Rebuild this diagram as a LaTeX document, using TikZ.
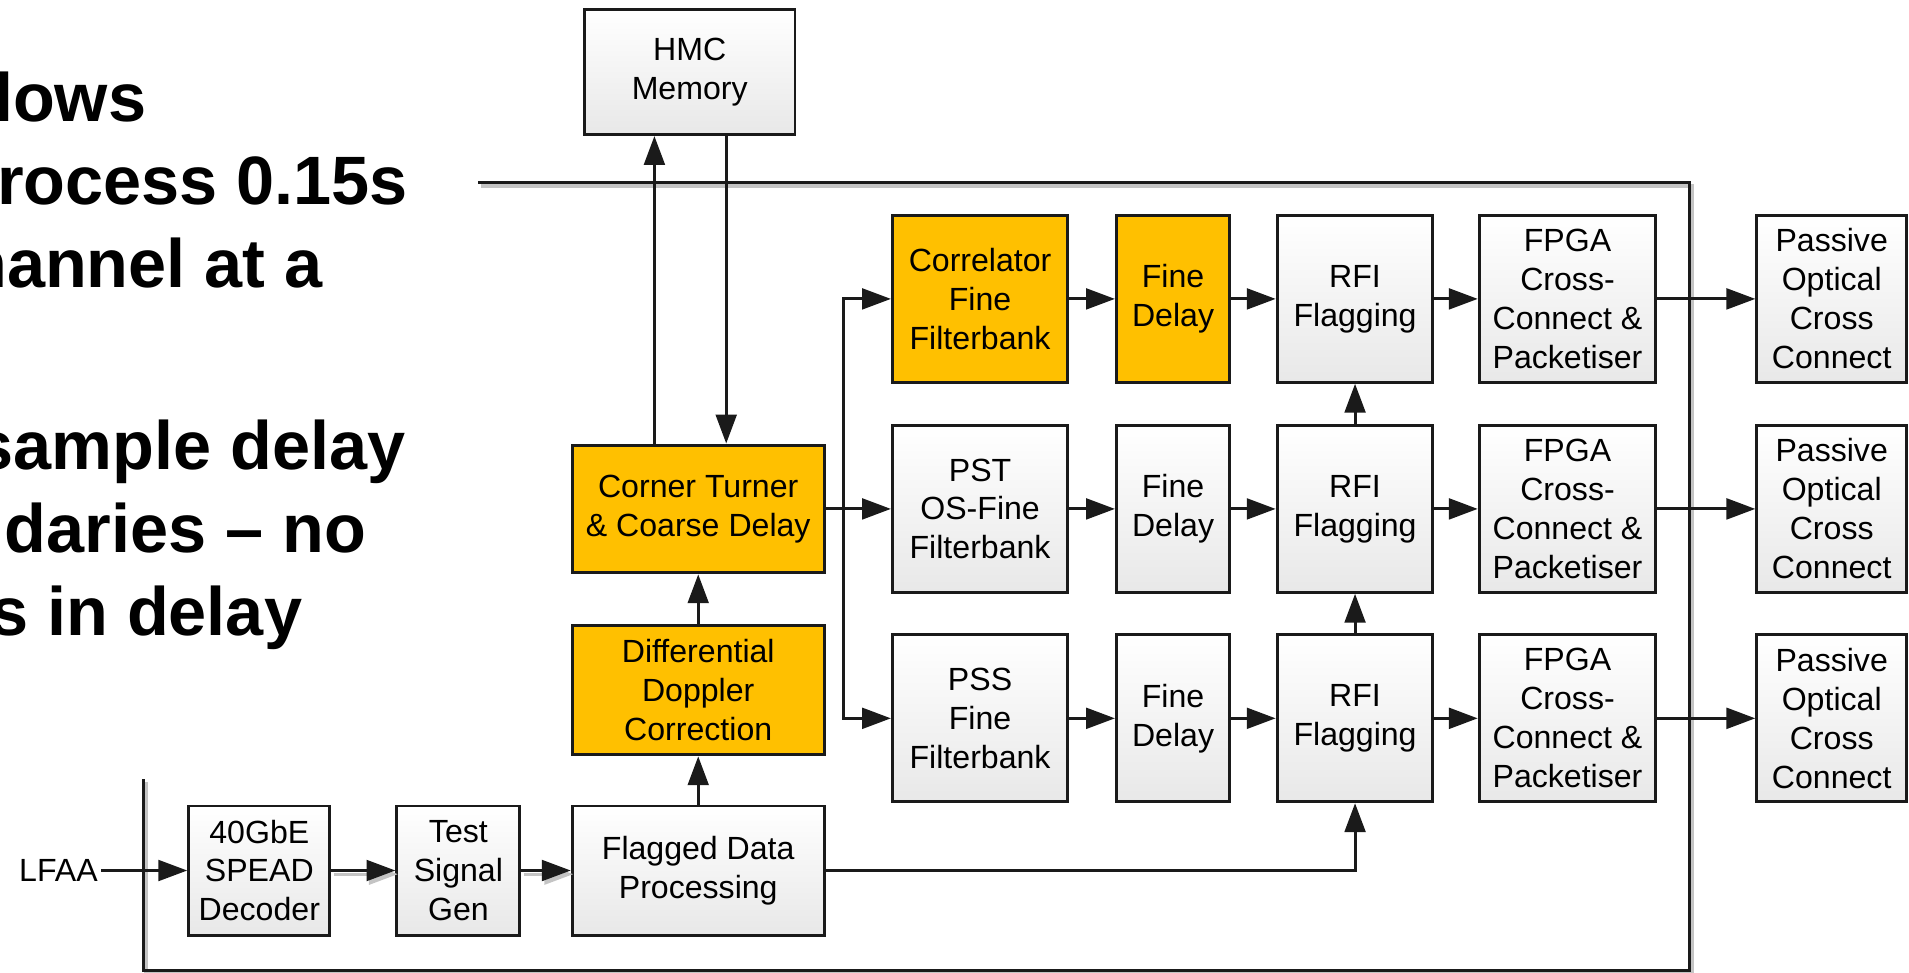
\documentclass[tikz,border=0pt]{standalone}
\usepackage{fontspec}
\setmainfont{Liberation Sans}
\usepackage{tikz}
\usetikzlibrary{positioning,arrows.meta,calc}
\definecolor{palOrange}{HTML}{FFC000}
\definecolor{palEdge}{HTML}{1A1A1A}
\definecolor{palShade}{HTML}{E8E8E8}
\definecolor{palShadow}{HTML}{C4C4C4}
\tikzset{
  blocknode/.style={draw=palEdge, line width=1.4pt, align=center, inner sep=1pt,
                    font=\fontsize{15}{18.2}\selectfont},
  procbox/.style={blocknode, top color=white, bottom color=palShade},
  hotbox/.style={blocknode, fill=palOrange},
  stdarrow/.style={-{Triangle[length=13.5pt,width=9.7pt]}, line width=1.35pt, palEdge},
  shadowarrow/.style={stdarrow, palShadow},
  stdline/.style={line width=1.4pt, palEdge},
  shadowline/.style={line width=1.9pt, palShadow},
}

\begin{document}
\begin{tikzpicture}[
  x=0.02cm, y=-0.02cm,
  rowbox/.style={minimum height=2.74cm},
  slidetext/.style={font=\fontsize{32}{38}\selectfont\bfseries, inner sep=0pt, anchor=base east},
]
\def\xBranch{693}   % x of the branch feeding the filterbanks
\def\yRowA{245.5}   % row centres
\def\yRowB{418}
\def\yRowC{590}

\useasboundingbox (0,0) rectangle (1568,799);
\clip (0,0) rectangle (1568,799);

%% Slide text, cut at the left edge
\foreach \x/\y/\txt in {120.5/100/lows, 335.5/168/rocess 0.15s, 265.5/236/hannel at a,
                        333.5/386/sample delay, 301/454/daries – no, 248.5/522/s in delay} {
  \node[slidetext] (txt\y) at (\x,\y) {\txt};
}

%% Board outline
\draw[shadowline, shift={(2,2.5)}] (393,150) -- (1388,150) -- (1388,797) -- (118,797) -- (118,640);
\draw[stdline] (393,150) -- (1388,150) -- (1388,797) -- (118,797) -- (118,640);

%% Ingest chain
\node[font=\fontsize{15}{18.2}\selectfont, inner sep=1.5pt] (lfaa) at (48,715) {LFAA};
\node[procbox, minimum width=2.32cm, minimum height=2.12cm] (dec) at (213,715) {40GbE\\SPEAD\\Decoder};
\node[procbox, minimum width=2.02cm, minimum height=2.12cm] (tsg) at (376.5,715) {Test\\Signal\\Gen};
\node[procbox, minimum width=4.14cm, minimum height=2.12cm] (fdp) at (573.5,715) {Flagged Data\\Processing};
\node[hotbox, minimum width=4.14cm, minimum height=2.12cm] (ddc) at (573.5,567) {Differential\\Doppler\\Correction};
\node[hotbox, minimum width=4.14cm, minimum height=2.1cm] (ct) at (573.5,\yRowB) {Corner Turner\\\& Coarse Delay};
\node[procbox, minimum width=3.46cm, minimum height=2.06cm] (hmc) at (566.5,59) {HMC\\Memory};

\draw[stdarrow] (lfaa) -- (dec);
\draw[shadowarrow] ([shift={(2,3)}]dec.east) -- ([shift={(2,3)}]tsg.west);
\draw[stdarrow] (dec) -- (tsg);
\draw[shadowarrow] ([shift={(2,3)}]tsg.east) -- ([shift={(2,3)}]fdp.west);
\draw[stdarrow] (tsg) -- (fdp);
\draw[stdarrow] (fdp) -- (ddc);
\draw[stdarrow] (ddc) -- (ct);

%% Memory round trip
\coordinate (memin) at ([xshift=-0.58cm]hmc.south);
\coordinate (memout) at ([xshift=0.6cm]hmc.south);
\draw[stdarrow] (memin |- ct.north) -- (memin);
\draw[stdarrow] (memout) -- (memout |- ct.north);

%% Filterbanks
\node[hotbox, rowbox, minimum width=2.88cm] (fb1) at (805,\yRowA) {Correlator\\Fine\\Filterbank};
\node[procbox, rowbox, minimum width=2.88cm] (fb2) at (805,\yRowB) {PST\\OS-Fine\\Filterbank};
\node[procbox, rowbox, minimum width=2.88cm] (fb3) at (805,\yRowC) {PSS\\Fine\\Filterbank};

\coordinate (br) at (\xBranch,\yRowB);
\draw[stdarrow] (ct) -- (fb2);
\draw[stdarrow] (br) |- (fb1);
\draw[stdarrow] (br) |- (fb3);

%% Per-beam chains
\foreach \r/\y/\fdsty in {1/\yRowA/hotbox, 2/\yRowB/procbox, 3/\yRowC/procbox} {
  \node[\fdsty, rowbox, minimum width=1.86cm] (fd\r) at (963.5,\y) {Fine\\Delay};
  \node[procbox, rowbox, minimum width=2.56cm] (rfi\r) at (1113,\y) {RFI\\Flagging};
  \node[procbox, rowbox, minimum width=2.9cm] (xc\r) at (1287.5,\y) {FPGA\\Cross-\\Connect \&\\Packetiser};
  \node[procbox, rowbox, minimum width=2.46cm] (poc\r) at (1504.5,\y) {Passive\\Optical\\Cross\\Connect};
  \draw[stdarrow] (fb\r) -- (fd\r);
  \draw[stdarrow] (fd\r) -- (rfi\r);
  \draw[stdarrow] (rfi\r) -- (xc\r);
  \draw[stdarrow] (xc\r) -- (poc\r);
}

%% Flag path
\draw[stdarrow] (rfi3) -- (rfi2);
\draw[stdarrow] (rfi2) -- (rfi1);
\draw[stdarrow] (fdp) -| (rfi3);
\end{tikzpicture}
\end{document}
